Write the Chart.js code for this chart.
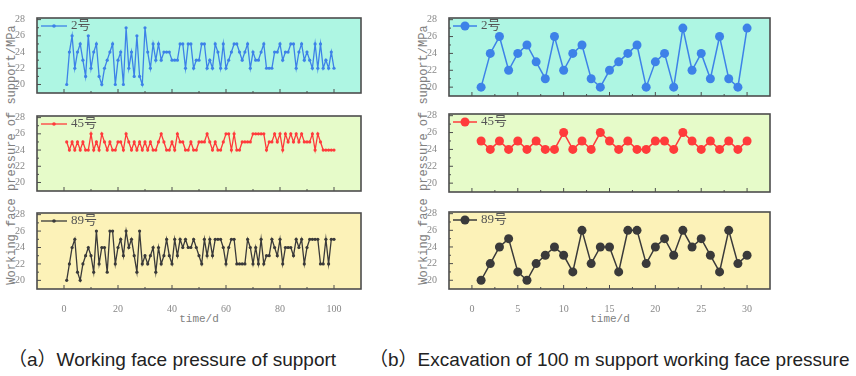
<!DOCTYPE html>
<html>
<head>
<meta charset="utf-8">
<script src="https://cdn.jsdelivr.net/npm/chart.js@4.4.1/dist/chart.umd.min.js"></script>
<style>
  body { margin: 0; width: 856px; height: 376px; background: #fff; position: relative; overflow: hidden; }
  canvas { position: absolute; }
  .ylab { position: absolute; font-family: "Liberation Mono", "DejaVu Sans Mono", monospace; font-size: 12px; color: #808080;
          white-space: nowrap; line-height: 1; transform: translate(-50%, -50%) rotate(-90deg); }
  .xlab { position: absolute; font-family: "Liberation Mono", "DejaVu Sans Mono", monospace; font-size: 11px; color: #808080;
          white-space: nowrap; transform: translate(-50%, -50%); }
  .cap { position: absolute; font-family: "Liberation Sans", Arial, "Noto Sans CJK SC", sans-serif; font-size: 19px; color: #222;
         white-space: nowrap; line-height: 1; transform: translateY(-50%); }
</style>
</head>
<body>
<div class="ylab" style="left:12px; top:155px">Working face pressure of support/MPa</div>
<div class="ylab" style="left:424px; top:155px">Working face pressure of support/MPa</div>
<div class="xlab" style="left:199px; top:319px">time/d</div>
<div class="xlab" style="left:610px; top:319px">time/d</div>
<div class="cap" style="left:8px; top:359px">（a）Working face pressure of support</div>
<div class="cap" style="left:369px; top:359px">（b）Excavation of 100 m support working face pressure</div>

<script>
// days of the 100-day record and of the first 30 days
const daysA = [1,2,3,4,5,6,7,8,9,10,11,12,13,14,15,16,17,18,19,20,21,22,23,24,25,26,27,28,29,30,
  31,32,33,34,35,36,37,38,39,40,41,42,43,44,45,46,47,48,49,50,51,52,53,54,55,56,57,58,59,60,
  61,62,63,64,65,66,67,68,69,70,71,72,73,74,75,76,77,78,79,80,81,82,83,84,85,86,87,88,89,90,
  91,92,93,94,95,96,97,98,99,100];
const daysB = [1,2,3,4,5,6,7,8,9,10,11,12,13,14,15,16,17,18,19,20,21,22,23,24,25,26,27,28,29,30];

// (a) support pressure, MPa
const supA2 = [20,24,26,22,24,25,23,21,26,22,24,25,21,20,22,23,24,25,20,23,24,20,27,22,24,21,26,21,20,27,
  24,22,25,23,25,23,24,24,24,23,23,23,25,25,22,25,25,22,23,23,25,25,22,23,22,25,24,22,25,22,
  23,24,25,25,24,23,24,25,22,24,23,23,24,25,22,22,22,24,24,25,23,24,24,25,25,22,24,25,23,24,
  23,22,25,22,25,22,23,22,24,22];
const supA45 = [25,24,25,24,25,24,25,24,24,26,24,25,24,26,25,24,25,24,24,25,25,24,26,25,24,25,24,25,24,25,
  24,25,24,24,25,26,25,24,24,25,24,26,25,25,24,24,25,24,24,25,25,25,26,25,24,25,24,24,25,26,
  26,24,26,24,24,25,25,25,25,26,26,26,26,26,24,25,25,26,25,26,24,26,25,26,25,26,25,26,25,25,
  25,26,24,26,25,24,24,24,24,24];
const supA89 = [20,22,24,25,21,20,22,23,24,23,21,26,22,24,24,21,26,26,22,24,25,23,26,24,25,23,21,26,22,23,
  22,23,24,21,24,22,23,25,23,22,25,23,25,24,25,24,24,25,24,23,22,25,23,25,23,25,25,25,24,22,
  24,25,25,22,22,22,22,25,24,22,24,22,25,22,23,23,25,24,23,25,22,24,24,24,23,25,24,25,22,24,
  25,25,25,25,22,22,25,22,25,25];

// (b) first 30 days
const supB2 = [20,24,26,22,24,25,23,21,26,22,24,25,21,20,22,23,24,25,20,23,24,20,27,22,24,21,26,21,20,27];
const supB45 = [25,24,25,24,25,24,25,24,24,26,24,25,24,26,25,24,25,24,24,25,25,24,26,25,24,25,24,25,24,25];
const supB89 = [20,22,24,25,21,20,22,23,24,23,21,26,22,24,24,21,26,26,22,24,25,23,26,24,25,23,21,26,22,23];

const seriesNames = ['2号', '45号', '89号'];
const xTicksA = [0, 20, 40, 60, 80, 100];
const xTicksB = [0, 5, 10, 15, 20, 25, 30];
const yTicks = [20, 22, 24, 26, 28];

const lineColors = ['#3d82e8', '#ff3b3b', '#3a3a3a'];
const panelColors = ['#aef6e3', '#e6fbc9', '#fcf2b8'];

const PL = 30, PT = 5, PR = 6, PB = 24;

const framePlugin = {
  id: 'frame',
  beforeDraw(chart) {
    const { ctx, chartArea: a } = chart;
    ctx.save();
    ctx.fillStyle = chart.options.plugins.frame.bg;
    ctx.fillRect(a.left, a.top, a.right - a.left, a.bottom - a.top);
    ctx.restore();
  },
  afterDatasetsDraw(chart) {
    const { ctx, chartArea: a } = chart;
    const o = chart.options.plugins.frame;
    const xs = chart.scales.x, ys = chart.scales.y;
    ctx.save();
    ctx.strokeStyle = '#4d4d4d';
    ctx.lineWidth = 1;
    // inward ticks on the bottom axis
    o.xTicks.forEach((v, i) => {
      const px = xs.getPixelForValue(v);
      ctx.beginPath(); ctx.moveTo(px, a.bottom); ctx.lineTo(px, a.bottom - 4); ctx.stroke();
      if (i < o.xTicks.length - 1) {
        const pm = xs.getPixelForValue((v + o.xTicks[i + 1]) / 2);
        ctx.beginPath(); ctx.moveTo(pm, a.bottom); ctx.lineTo(pm, a.bottom - 2); ctx.stroke();
      }
    });
    // inward ticks on the left axis
    yTicks.forEach((v, i) => {
      const py = ys.getPixelForValue(v);
      ctx.beginPath(); ctx.moveTo(a.left, py); ctx.lineTo(a.left + 4, py); ctx.stroke();
      if (i < yTicks.length - 1) {
        const pm = ys.getPixelForValue(v + 1);
        ctx.beginPath(); ctx.moveTo(a.left, pm); ctx.lineTo(a.left + 2, pm); ctx.stroke();
      }
    });
    ctx.lineWidth = 1.6;
    ctx.strokeRect(a.left, a.top, a.right - a.left, a.bottom - a.top);

    // legend inside the top-left corner
    const ds = chart.data.datasets[0];
    const lx = a.left + o.legX, ly = a.top + 8;
    ctx.strokeStyle = ds.borderColor;
    ctx.lineWidth = ds.borderWidth;
    ctx.beginPath(); ctx.moveTo(lx, ly); ctx.lineTo(lx + o.legLen, ly); ctx.stroke();
    ctx.fillStyle = ds.borderColor;
    ctx.beginPath(); ctx.arc(lx + o.legLen / 2, ly, o.legR, 0, Math.PI * 2); ctx.fill();
    ctx.fillStyle = '#555';
    ctx.font = '13px "Liberation Serif", "Noto Sans CJK SC", serif';
    ctx.textBaseline = 'middle';
    ctx.fillText(ds.label, lx + o.legLen + 4, ly);
    ctx.restore();
  }
};

function makePanel(box, days, values, k, xMin, xMax, xTicks, showX, pr, legLen, legR) {
  const [l, t, r, b] = box;
  const cv = document.createElement('canvas');
  cv.width = (r - l) + PL + PR;
  cv.height = (b - t) + PT + PB;
  cv.style.left = (l - PL) + 'px';
  cv.style.top = (t - PT) + 'px';
  document.body.appendChild(cv);
  new Chart(cv.getContext('2d'), {
    type: 'line',
    data: {
      labels: days,
      datasets: [{
        label: seriesNames[k],
        data: values,
        borderColor: lineColors[k],
        backgroundColor: lineColors[k],
        pointBackgroundColor: lineColors[k],
        pointBorderWidth: 0,
        pointRadius: pr,
        borderWidth: pr > 3 ? 1.5 : 1.3,
        tension: 0
      }]
    },
    options: {
      responsive: false,
      animation: false,
      layout: { padding: { top: PT, right: PR, left: 0, bottom: 0 } },
      plugins: {
        legend: { display: false },
        tooltip: { enabled: false },
        frame: { bg: panelColors[k], xTicks: xTicks, legX: 4, legLen: legLen, legR: legR }
      },
      scales: {
        x: {
          type: 'linear', min: xMin, max: xMax,
          grid: { display: false }, border: { display: false },
          afterBuildTicks: s => { s.ticks = xTicks.map(v => ({ value: v })); },
          afterFit: s => { s.height = PB; },
          ticks: { display: showX, color: '#888', padding: 6, maxRotation: 0, autoSkip: false,
                   font: { family: '"Liberation Serif", serif', size: 10 } }
        },
        y: {
          min: 18.95, max: 28.2,
          grid: { display: false }, border: { display: false },
          afterBuildTicks: s => { s.ticks = yTicks.map(v => ({ value: v })); },
          afterFit: s => { s.width = PL; },
          ticks: { color: '#888', padding: 4, font: { family: '"Liberation Serif", serif', size: 10 } }
        }
      }
    },
    plugins: [framePlugin]
  });
}

makePanel([37, 13, 361, 93], daysA, supA2, 0, -10, 110, xTicksA, false, 1.6, 26, 1.8);
makePanel([37, 111, 361, 191], daysA, supA45, 1, -10, 110, xTicksA, false, 1.6, 26, 1.8);
makePanel([37, 208, 361, 289], daysA, supA89, 2, -10, 110, xTicksA, true, 1.6, 26, 1.8);
makePanel([449, 13, 770, 96], daysB, supB2, 0, -2.5, 32.5, xTicksB, false, 4.5, 24, 4.5);
makePanel([449, 109, 770, 192], daysB, supB45, 1, -2.5, 32.5, xTicksB, false, 4.5, 24, 4.5);
makePanel([449, 207, 770, 289], daysB, supB89, 2, -2.5, 32.5, xTicksB, true, 4.5, 24, 4.5);
</script>
</body>
</html>
